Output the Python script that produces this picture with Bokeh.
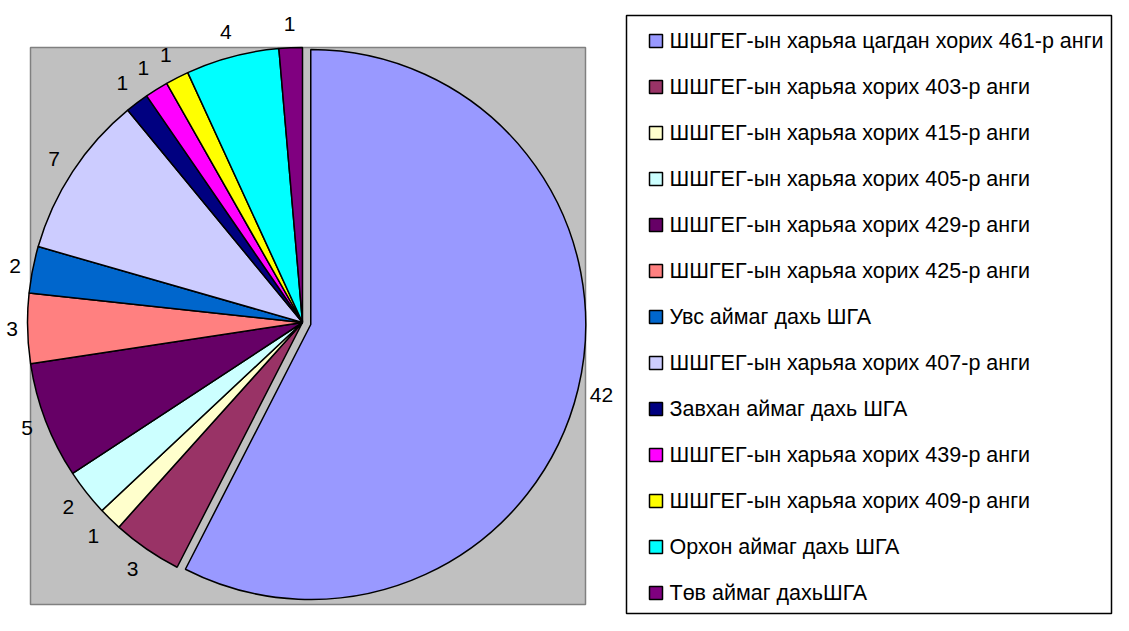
import numpy as np
from bokeh.plotting import figure
from bokeh.models import Range1d, ColumnDataSource
from bokeh.embed import file_html
from bokeh.resources import INLINE
from bokeh.core.properties import value

# ---- data ----
categories = [
    "ШШГЕГ-ын харьяа цагдан хорих 461-р анги",
    "ШШГЕГ-ын харьяа хорих 403-р анги",
    "ШШГЕГ-ын харьяа хорих 415-р анги",
    "ШШГЕГ-ын харьяа хорих 405-р анги",
    "ШШГЕГ-ын харьяа хорих 429-р анги",
    "ШШГЕГ-ын харьяа хорих 425-р анги",
    "Увс аймаг дахь ШГА",
    "ШШГЕГ-ын харьяа хорих 407-р анги",
    "Завхан аймаг дахь ШГА",
    "ШШГЕГ-ын харьяа хорих 439-р анги",
    "ШШГЕГ-ын харьяа хорих 409-р анги",
    "Орхон аймаг дахь ШГА",
    "Төв аймаг дахьШГА",
]
counts = [42, 3, 1, 2, 5, 3, 2, 7, 1, 1, 1, 4, 1]
colors = ["#9999FF", "#993366", "#FFFFCC", "#CCFFFF", "#660066", "#FF8080",
          "#0066CC", "#CCCCFF", "#000080", "#FF00FF", "#FFFF00", "#00FFFF", "#800080"]
exploded = [1, 0, 0, 0, 0, 0, 0, 0, 0, 0, 0, 0, 0]

# ---- layout ----
W, H = 1113, 615
FONT = value("Liberation Sans")


def Y(y):
    return H - np.asarray(y, dtype=float)


p = figure(width=W, height=H, x_range=Range1d(0, W), y_range=Range1d(0, H),
           output_backend="svg", toolbar_location=None, min_border=0)
p.axis.visible = False
p.grid.visible = False
p.outline_line_color = None
p.background_fill_color = "white"
p.border_fill_color = "white"

# plot area
p.quad(left=30, right=585, top=Y(47), bottom=Y(604),
       fill_color="#C0C0C0", line_color="#808080", line_width=1.5)

# pie
total = float(sum(counts))
cum = np.concatenate([[0.0], np.cumsum(counts)]) / total
start = np.pi / 2 - 2 * np.pi * cum[:-1]
end = np.pi / 2 - 2 * np.pi * cum[1:]
mid = (start + end) / 2
cx, cy, R, EXP = 302.0, float(Y(322)), 275.0, 8.5
ex = np.array(exploded, dtype=float)
xs = cx + EXP * ex * np.cos(mid)
ys = cy + EXP * ex * np.sin(mid)

src = ColumnDataSource(dict(x=xs, y=ys, start=start, end=end, color=colors))
p.wedge(x="x", y="y", radius=R, start_angle="start", end_angle="end",
        direction="clock", fill_color="color", line_color="black", line_width=1.5,
        source=src)

# data labels outside the slices (box-aware distance)
texts = [str(c) for c in counts]
tw = np.array([11.5 * len(t) for t in texts])
LR = R + 9.5 + 0.5 * (tw * np.abs(np.cos(mid)) + 29 * np.abs(np.sin(mid)))
lsrc = ColumnDataSource(dict(x=xs + LR * np.cos(mid), y=ys + LR * np.sin(mid),
                             text=texts))
p.text(x="x", y="y", text="text", source=lsrc, text_align="center",
       text_baseline="middle", text_font=FONT, text_font_size="21px",
       text_color="black")

# legend
p.quad(left=626, right=1111, top=Y(15), bottom=Y(613),
       fill_color="white", line_color="black", line_width=1.5)
rows = Y(40.5 + 46.0 * np.arange(len(categories)))
p.rect(x=655.5, y=rows, width=13, height=13, fill_color=colors,
       line_color="black", line_width=1.5)
p.text(x=669, y=rows, text=categories, text_align="left", text_baseline="middle",
       text_font=FONT, text_font_size="21.5px", text_color="black")

open("out.html", "w").write(file_html(p, INLINE))
